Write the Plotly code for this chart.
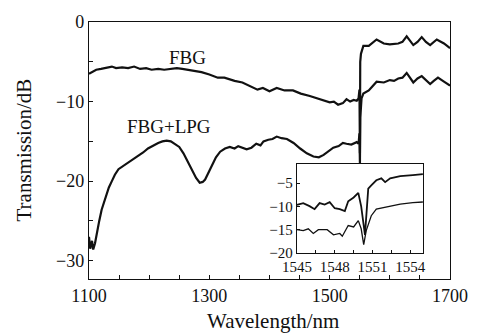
import plotly.graph_objects as go

# ---- main plot data ----
wl_fbg = [1100, 1105, 1112, 1120, 1130, 1138, 1145, 1155, 1165, 1175, 1185, 1195, 1204, 1215, 1225,
          1235, 1246, 1255, 1265, 1275, 1287, 1300, 1314, 1325, 1342, 1355, 1370, 1380, 1389, 1400,
          1412, 1425, 1439, 1452, 1467, 1480, 1490, 1500, 1507, 1514, 1522, 1528, 1534, 1540, 1545,
          1548, 1549.5, 1550.3, 1550.8, 1552, 1556, 1565, 1578, 1590, 1600, 1614, 1621, 1628, 1639,
          1646, 1653, 1660, 1667, 1672, 1678, 1690, 1700]
t_fbg = [-6.5, -6.3, -6.0, -5.9, -5.7, -5.6, -5.8, -5.7, -5.8, -5.6, -5.9, -5.8, -6.0, -5.9, -6.0,
         -5.9, -5.8, -5.9, -6.0, -6.1, -6.3, -6.6, -7.0, -7.0, -7.4, -7.6, -8.2, -8.5, -8.3, -8.7,
         -8.3, -8.6, -8.6, -9.0, -9.3, -9.6, -9.9, -10.1, -10.0, -10.4, -10.2, -9.7, -10.0, -9.8, -9.9,
         -9.6, -8.5, -16.5, -5.0, -4.0, -3.0, -3.0, -2.2, -2.7, -2.8, -2.7, -2.5, -1.8, -2.9,
         -2.5, -1.9, -2.5, -2.9, -2.6, -2.2, -2.7, -3.3]

wl_lpg = [1100, 1102, 1105, 1107, 1110, 1113, 1117, 1121, 1125, 1129, 1133, 1138, 1143, 1149, 1157,
          1165, 1173, 1182, 1190, 1198, 1207, 1215, 1222, 1229, 1236, 1243, 1250, 1257, 1264, 1271,
          1278, 1284, 1289, 1293, 1298, 1304, 1311, 1318, 1326, 1334, 1342, 1348, 1354, 1362, 1370,
          1378, 1385, 1390, 1398, 1405, 1412, 1420, 1429, 1440, 1451, 1462, 1473, 1482, 1490, 1498,
          1506, 1515, 1522, 1528, 1536, 1545, 1548, 1549.5, 1550.3, 1550.9, 1551.5, 1553, 1556, 1565,
          1572, 1578, 1590, 1600, 1607, 1614, 1621, 1628, 1639, 1646, 1653, 1660, 1667, 1673, 1680,
          1690, 1700]
t_lpg = [-27.0, -28.5, -27.5, -28.6, -27.8, -26.4, -25.0, -23.6, -22.6, -21.6, -20.8, -20.0, -19.2, -18.5, -18.1,
         -17.7, -17.3, -16.9, -16.4, -15.9, -15.5, -15.2, -15.0, -14.9, -15.0, -15.3, -15.7, -16.5, -17.5, -18.7,
         -19.6, -20.2, -20.1, -19.8, -19.0, -17.9, -17.0, -16.3, -15.9, -15.7, -15.9, -15.6, -15.8, -16.0, -15.8,
         -15.3, -15.5, -15.0, -14.8, -14.7, -14.4, -14.6, -14.7, -15.2, -15.9, -16.5, -16.9, -17.0, -16.7, -16.3,
         -15.8, -15.6, -15.2, -15.3, -15.4, -15.1, -15.3, -14.0, -17.8, -12.0, -10.5, -9.6, -9.0, -8.6,
         -8.0, -7.5, -7.6, -7.3, -7.4, -7.1, -7.0, -6.4, -7.6, -7.1, -6.8, -7.3, -7.8, -7.4, -7.0,
         -7.5, -8.0]

# ---- inset data ----
wl_in_fbg = [1545, 1545.5, 1546, 1546.4, 1546.8, 1547.2, 1547.6, 1548, 1548.4, 1548.8, 1549.07,
             1549.5, 1549.87, 1550.1, 1550.4, 1550.66, 1550.9, 1551.3, 1551.7, 1552.0, 1552.4,
             1553.2, 1554.2, 1555]
t_in_fbg = [-9.7, -9.3, -9.95, -10.6, -9.3, -9.6, -9.1, -10.4, -10.6, -11.0, -8.9,
            -8.1, -7.1, -10.0, -16.1, -6.2, -5.5, -4.4, -4.0, -4.8, -4.0,
            -3.5, -3.3, -3.1]
wl_in_lpg = [1545, 1545.5, 1545.9, 1546.3, 1546.7, 1547.4, 1547.9, 1548.4, 1548.6, 1549.07,
             1549.5, 1549.87, 1550.1, 1550.3, 1550.5, 1550.9, 1551.3, 1551.8, 1552.4, 1553.2,
             1554.2, 1555]
t_in_lpg = [-15.0, -15.2, -14.8, -15.8, -15.0, -15.0, -16.1, -15.8, -16.4, -14.1,
            -14.4, -13.05, -14.8, -18.2, -15.2, -12.0, -10.6, -10.3, -9.96, -9.5,
            -9.2, -9.06]

main_xticks = [1100, 1300, 1500, 1700]
main_yticks = [0, -10, -20, -30]
inset_xticks = [1545, 1548, 1551, 1554]
inset_yticks = [-5, -10, -15, -20]

FONT = "Liberation Serif, Times New Roman, serif"
INK = "#111111"

fig = go.Figure()
fig.add_trace(go.Scatter(x=wl_fbg, y=t_fbg, mode="lines", line=dict(color=INK, width=2.2),
                         showlegend=False, xaxis="x", yaxis="y"))
fig.add_trace(go.Scatter(x=wl_lpg, y=t_lpg, mode="lines", line=dict(color=INK, width=2.2),
                         showlegend=False, xaxis="x", yaxis="y"))
fig.add_trace(go.Scatter(x=wl_in_fbg, y=t_in_fbg, mode="lines", line=dict(color=INK, width=1.8),
                         showlegend=False, xaxis="x2", yaxis="y2"))
fig.add_trace(go.Scatter(x=wl_in_lpg, y=t_in_lpg, mode="lines", line=dict(color=INK, width=1.3),
                         showlegend=False, xaxis="x2", yaxis="y2"))

axis_common = dict(showgrid=False, zeroline=False, showline=True, linecolor=INK, linewidth=1.3,
                   mirror=True, ticks="inside", tickcolor=INK)

fig.update_layout(
    width=482, height=335,
    margin=dict(l=89, r=32, t=12, b=56),
    paper_bgcolor="white", plot_bgcolor="white",
    font=dict(family=FONT, color=INK, size=18),
    xaxis=dict(domain=[0, 1], range=[1100, 1700], tickvals=main_xticks, ticklen=4, tickwidth=1.2,
               minor=dict(dtick=50, tick0=1100, ticks="inside", ticklen=4, tickcolor=INK, tickwidth=1.2),
               tickfont=dict(size=18), anchor="y", **axis_common),
    yaxis=dict(domain=[0, 1], range=[-32.3, 0], tickvals=main_yticks, ticklen=4, tickwidth=1.2,
               minor=dict(dtick=5, tick0=0, ticks="inside", ticklen=4, tickcolor=INK, tickwidth=1.2),
               tickfont=dict(size=18), anchor="x", **axis_common),
    xaxis2=dict(domain=[0.576, 0.925], range=[1545, 1555], tickvals=inset_xticks, ticklen=3,
                minor=dict(dtick=1.5, tick0=1545, ticks="inside", ticklen=3, tickcolor=INK),
                tickfont=dict(size=15), anchor="y2", **axis_common),
    yaxis2=dict(domain=[0.101, 0.446], range=[-20, -1], tickvals=inset_yticks, ticklen=3,
                tickfont=dict(size=15), anchor="x2", **axis_common),
    annotations=[
        dict(text="FBG", x=1263, y=-4.4, xref="x", yref="y", showarrow=False,
             font=dict(size=19, family=FONT, color=INK)),
        dict(text="FBG+LPG", x=1233, y=-13.1, xref="x", yref="y", showarrow=False,
             font=dict(size=19, family=FONT, color=INK)),
        dict(text="Transmission/dB", x=(23 - 89) / 361, y=0.5, xref="paper", yref="paper",
             textangle=-90, showarrow=False, xanchor="center", yanchor="middle",
             font=dict(size=21, family=FONT, color=INK)),
        dict(text="Wavelength/nm", x=(273 - 89) / 361, y=(279 - 323) / 267, xref="paper", yref="paper",
             showarrow=False, xanchor="center", yanchor="middle",
             font=dict(size=21, family=FONT, color=INK)),
    ],
)

fig.write_html("out.html")
